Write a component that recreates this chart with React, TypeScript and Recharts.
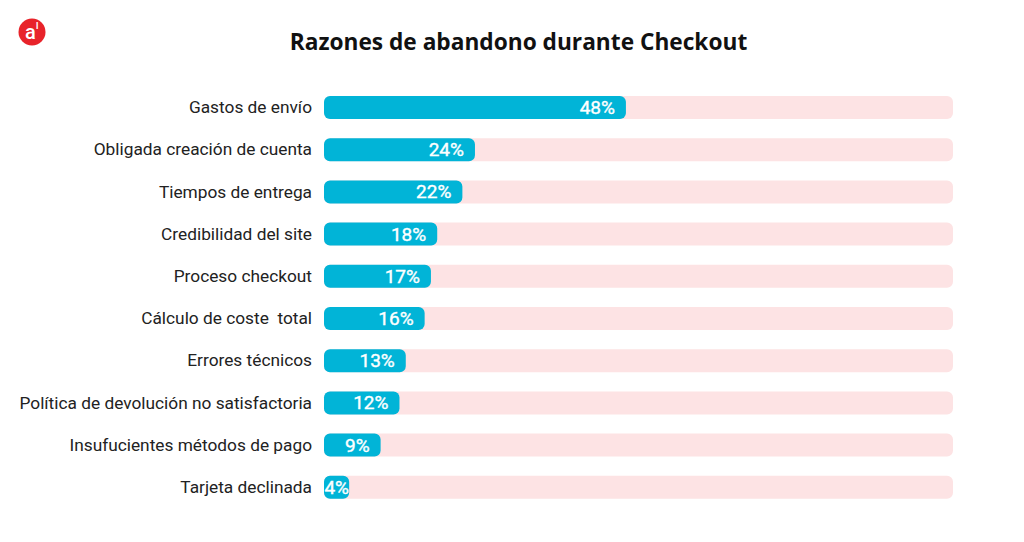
import React from 'react';
import { BarChart, Bar, XAxis, YAxis, LabelList } from 'recharts';

const reasons = [
  'Gastos de envío',
  'Obligada creación de cuenta',
  'Tiempos de entrega',
  'Credibilidad del site',
  'Proceso checkout',
  'Cálculo de coste\u00a0 total',
  'Errores técnicos',
  'Política de devolución no satisfactoria',
  'Insufucientes métodos de pago',
  'Tarjeta declinada',
];
const percentages = [48, 24, 22, 18, 17, 16, 13, 12, 9, 4];

const data = reasons.map((reason, i) => ({ reason, value: percentages[i] }));

const BarLabel = (props: any) => {
  const { x, y, width, height, value } = props;
  const endX = Math.max(x + width - 11, x + 25);
  return (
    <text
      x={endX}
      y={y + height / 2}
      dy={6.5}
      textAnchor="end"
      fill="#ffffff"
      fontSize={19}
      fontWeight={400}
      stroke="#ffffff"
      strokeWidth={0.4}
      fontFamily="Roboto, sans-serif"
    >
      {`${value}%`}
    </text>
  );
};

export default function App() {
  return (
    <div style={{ position: 'absolute', left: 0, top: 0, width: 1024, height: 542, background: '#fff' }}>
      {/* logo */}
      <svg width={60} height={60} style={{ position: 'absolute', left: 0, top: 0 }}>
        <circle cx={32} cy={32} r={13.5} fill="#e8232a" />
        <text x={25} y={39} fill="#fff" fontSize={20} fontWeight={500} fontFamily="Roboto, sans-serif">a</text>
        <text x={36} y={29} fill="#fff" fontSize={9} fontWeight={700} fontFamily="Roboto, sans-serif">l</text>
      </svg>

      <div
        style={{
          position: 'absolute',
          left: 0,
          width: 1037,
          top: 26,
          textAlign: 'center',
          fontFamily: '"Open Sans", sans-serif',
          fontWeight: 700,
          fontSize: 22.7,
          color: '#111',
        }}
      >
        Razones de abandono durante Checkout
      </div>

      <BarChart
        width={1024}
        height={542}
        data={data}
        layout="vertical"
        margin={{ top: 86, right: 71, bottom: 34, left: 0 }}
        style={{ position: 'absolute', left: 0, top: 0 }}
      >
        <XAxis type="number" domain={[0, 100]} hide />
        <YAxis
          type="category"
          dataKey="reason"
          width={324}
          axisLine={false}
          tickLine={false}
          tickMargin={6}
          tick={{ fill: '#222', fontSize: 17.3, fontFamily: 'Roboto, sans-serif' }}
        />
        <Bar
          dataKey="value"
          fill="#01b4d7"
          barSize={23}
          radius={6}
          background={{ fill: '#fde3e4', radius: 6 }}
          isAnimationActive={false}
        >
          <LabelList dataKey="value" content={BarLabel} />
        </Bar>
      </BarChart>
    </div>
  );
}
